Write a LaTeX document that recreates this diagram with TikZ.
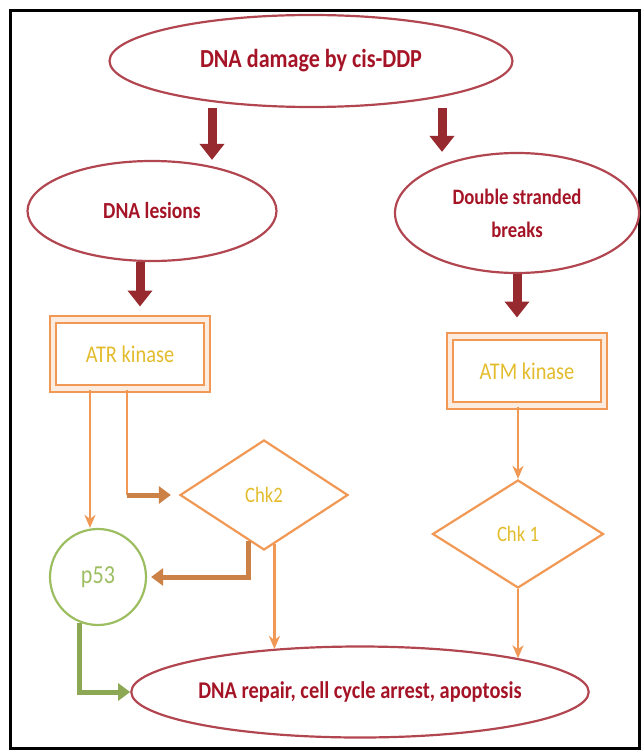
\documentclass[tikz,border=0pt]{standalone}
\usepackage{fontspec}
\setmainfont{Carlito}[FakeStretch=0.85]
\usetikzlibrary{shapes.geometric,arrows.meta,calc}
\definecolor{ovalred}{RGB}{178,70,80}
\definecolor{textred}{RGB}{165,20,38}
\definecolor{arrowred}{RGB}{150,42,46}
\definecolor{boxorange}{RGB}{240,152,84}
\definecolor{kinasegold}{RGB}{226,188,44}
\definecolor{pgreen}{RGB}{156,190,96}
\definecolor{arrowgreen}{RGB}{140,168,84}

\begin{document}
\begin{tikzpicture}[x=1pt,y=-1pt,
    oval/.style={ellipse,draw=ovalred,line width=2.2pt,text=textred,inner sep=0pt},
    kinase/.style={rectangle,draw=boxorange,line width=2pt,double=boxorange!18,double distance=4.5pt,text=kinasegold,minimum width=154pt,minimum height=69pt,font=\fontsize{24}{28}\selectfont},
    check/.style={diamond,draw=boxorange,line width=2.2pt,text=kinasegold,inner sep=0pt,font=\fontsize{22}{26}\selectfont},
    bigarrow/.style={draw=arrowred,line width=9pt,-{Triangle[width=24pt,length=16pt]}},
    thinline/.style={draw=boxorange,line width=2.5pt},
    thinarrow/.style={thinline,-{Stealth[width=11pt,length=13pt,inset=4pt]}},
    thickarrow/.style={draw=boxorange!85!black,line width=5pt,-{Triangle[width=17pt,length=12pt]}},
    greenarrow/.style={draw=arrowgreen,line width=5pt,-{Triangle[width=17pt,length=12pt]}}]
          \useasboundingbox (0,0) rectangle (642,751);
          % the black frame
          \draw[line width=3pt] (10,11) rectangle (639,748);
          % ovals, boxes and checkpoints
          \node[oval,minimum width=403pt,minimum height=92pt,font=\bfseries\fontsize{26}{30}\selectfont] (damage) at (311,61) {DNA damage by cis-DDP};
          \node[oval,minimum width=249pt,minimum height=100pt,font=\bfseries\fontsize{23}{27}\selectfont] (lesions) at (152,211) {DNA lesions};
          \node[oval,minimum width=244pt,minimum height=120pt,align=center,font=\bfseries\fontsize{22}{33}\selectfont] (dsb) at (517,213) {Double stranded\\breaks};
          \node[kinase] (atr) at (130,354) {ATR kinase};
          \node[kinase] (atm) at (527,371) {ATM kinase};
          \node[check,minimum width=168pt,minimum height=110pt] (chktwo) at (264,495) {Chk2};
          \node[check,minimum width=171pt,minimum height=108pt] (chkone) at (518,534) {Chk 1};
          \node[circle,draw=pgreen,line width=2.2pt,text=pgreen,minimum size=96pt,font=\fontsize{26}{30}\selectfont] (pfiftythree) at (98,577) {p53};
          \node[oval,minimum width=455pt,minimum height=91pt,font=\bfseries\fontsize{24}{28}\selectfont] (outcome) at (360,692) {DNA repair, cell cycle arrest, apoptosis};
          % dark red block arrows
          \coordinate (dl) at ([xshift=-99pt]damage.south);
          \coordinate (dr) at ([xshift=131pt]damage.south);
          \coordinate (la) at ([xshift=-12pt]lesions.south);
          \draw[bigarrow] (dl) -- (dl |- lesions.north);
          \draw[bigarrow] (dr) -- (dr |- dsb.north);
          \draw[bigarrow,shorten >=12pt] (la) -- (la |- atr.north);
          \draw[bigarrow,shorten >=18pt] (dsb.south) -- (dsb.south |- atm.north);
          % orange and green connectors
          \coordinate (ap) at ([xshift=-40pt]atr.south);
          \coordinate (ac) at ([xshift=-3pt]atr.south);
          \draw[thinarrow] (ap) -- (ap |- pfiftythree.north);
          \draw[thinline] (ac) -- (ac |- chktwo.west);
          \draw[thickarrow,shorten >=8pt] (ac |- chktwo.west) -- (chktwo.west);
          \draw[thickarrow,shorten >=4pt] (chktwo.252) |- (pfiftythree.east);
          \draw[thinarrow] (chktwo.282) -- (chktwo.282 |- outcome.154);
          \draw[thinarrow] (chkone.north |- atm.south) -- (chkone.north);
          \draw[thinarrow] (chkone.south) -- (chkone.south |- outcome.12);
          \draw[greenarrow] (pfiftythree.248) |- (outcome.west);
        \end{tikzpicture}
\end{document}
